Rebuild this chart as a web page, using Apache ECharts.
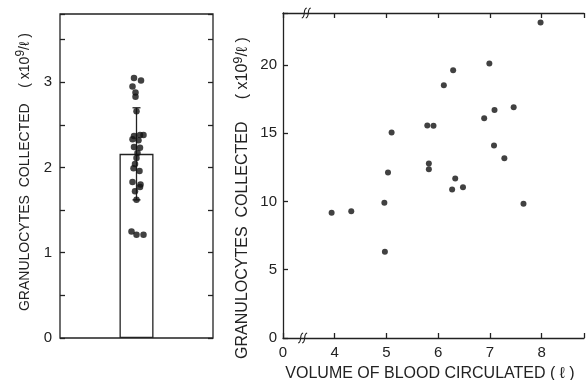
<!DOCTYPE html>
<html><head><meta charset="utf-8">
<script src="https://cdn.jsdelivr.net/npm/echarts@6/dist/echarts.min.js"></script>
<style>html,body{margin:0;padding:0;background:#fff}#c{width:587px;height:380px}</style>
</head><body><div id="c"></div>
<script>
// Left panel: individual values and mean ± SD
const leftCategory = ['all'];
const leftValues = [3.05,3.02,2.95,2.88,2.83,2.66,2.37,2.38,2.38,2.33,2.32,2.24,2.23,2.17,2.11,2.04,1.99,1.96,1.83,1.80,1.77,1.72,1.62,1.25,1.21,1.21];
const leftJitter = [-2.5,4.5,-4,-1,-1,0,-2.5,3.5,7,-4,2,-2.5,3.5,1,0,-1.5,-3,3,-4,4,3.5,-1.5,0,-5,0,7];
const barMean = [2.16];
const barSD = [0.54];
// Right panel: volume of blood circulated vs granulocytes collected
const volume = [7.98,6.99,6.29,6.11,7.46,7.09,6.89,5.79,5.91,5.10,7.08,7.28,5.82,5.82,5.03,6.33,6.27,6.48,3.94,4.32,4.96,7.65,4.97];
const granulocytes = [23.1,20.1,19.6,18.5,16.9,16.7,16.1,15.57,15.55,15.04,14.09,13.16,12.77,12.36,12.12,11.68,10.88,11.04,9.17,9.29,9.9,9.83,6.32];
const leftTicks = [0,1,2,3];
const rightYTicks = [0,5,10,15,20];
const rightXTicks = [4,5,6,7,8];
const breakX = [3.38,3.45];
const breakY = [0,23.8];

const INK = '#222';
const FONT = 'Liberation Sans';
const line = {color: INK, width: 1.3};

const chart = echarts.init(document.getElementById('c'), null, {renderer:'canvas'});
const tickLabel = {fontFamily: FONT, fontSize: 15, color: INK};

chart.setOption({
  backgroundColor: '#fff',
  animation: false,
  grid: [
    {left: 60, right: 374, top: 14, bottom: 42, show: true, borderColor: INK, borderWidth: 1.3, backgroundColor: 'transparent'},
    {left: 283, right: 0, top: 13, bottom: 42, show: false}
  ],
  xAxis: [
    {gridIndex: 0, type: 'category', data: leftCategory, axisLine: {show: false, onZero: false}, axisTick: {show: false}, axisLabel: {show: false}},
    {gridIndex: 0, type: 'value', min: -76.5, max: 76.5, show: false, axisLine: {onZero: false}},
    {gridIndex: 1, type: 'value', min: 3, max: 8.82, interval: 1, position: 'bottom',
      axisLine: {show: true, onZero: false, lineStyle: line}, splitLine: {show: false},
      axisTick: {inside: true, length: 5, lineStyle: line},
      axisLabel: Object.assign({margin: 7, formatter: v => v === 3 ? '0' : (rightXTicks.indexOf(v) >= 0 ? String(v) : '')}, tickLabel)},
    {gridIndex: 1, type: 'value', min: 3, max: 8.82, interval: 1, position: 'top',
      axisLine: {show: true, onZero: false, lineStyle: line}, splitLine: {show: false},
      axisTick: {inside: true, length: 5, lineStyle: line}, axisLabel: {show: false}}
  ],
  yAxis: [
    {gridIndex: 0, type: 'value', min: 0, max: 3.8, interval: 0.5,
      axisLine: {show: false, onZero: false}, splitLine: {show: false},
      axisTick: {show: true, inside: true, length: 5, lineStyle: line},
      axisLabel: Object.assign({margin: 8, formatter: v => leftTicks.indexOf(v) >= 0 ? String(v) : ''}, tickLabel)},
    {gridIndex: 0, type: 'value', min: 0, max: 3.8, interval: 0.5, position: 'right',
      axisLine: {show: false, onZero: false}, splitLine: {show: false},
      axisTick: {show: true, inside: true, length: 5, lineStyle: line}, axisLabel: {show: false}},
    {gridIndex: 1, type: 'value', min: 0, max: 23.8, interval: 5,
      axisLine: {show: true, onZero: false, lineStyle: line}, splitLine: {show: false},
      axisTick: {show: true, inside: true, length: 5, lineStyle: line},
      axisLabel: Object.assign({margin: 6, formatter: v => rightYTicks.indexOf(v) >= 0 ? String(v) : ''}, tickLabel)}
  ],
  series: [
    {type: 'bar', xAxisIndex: 0, yAxisIndex: 0, data: barMean, barWidth: 34,
      itemStyle: {color: '#fff', borderColor: INK, borderWidth: 1.3}, z: 1},
    {type: 'custom', xAxisIndex: 0, yAxisIndex: 0, z: 3,
      data: barMean.map((m, i) => [i, m - barSD[i], m + barSD[i]]),
      renderItem: function (params, api) {
        const lo = api.coord([api.value(0), api.value(1)]);
        const hi = api.coord([api.value(0), api.value(2)]);
        const w = 4, st = {stroke: INK, lineWidth: 1.3};
        return {type: 'group', children: [
          {type: 'line', shape: {x1: lo[0], y1: lo[1], x2: hi[0], y2: hi[1]}, style: st},
          {type: 'line', shape: {x1: hi[0]-w, y1: hi[1], x2: hi[0]+w, y2: hi[1]}, style: st},
          {type: 'line', shape: {x1: lo[0]-w, y1: lo[1], x2: lo[0]+w, y2: lo[1]}, style: st}
        ]};
      }},
    {type: 'scatter', xAxisIndex: 1, yAxisIndex: 0, z: 4, symbolSize: 6.5,
      itemStyle: {color: '#111'},
      data: leftValues.map((v, i) => [leftJitter[i], v])},
    {type: 'scatter', xAxisIndex: 2, yAxisIndex: 2, z: 4, symbolSize: 6,
      itemStyle: {color: '#111'},
      data: volume.map((v, i) => [v, granulocytes[i]])},
    {type: 'custom', xAxisIndex: 2, yAxisIndex: 2, z: 5, clip: false,
      data: breakX.map((x, i) => [x, breakY[i]]),
      renderItem: function (params, api) {
        const p = api.coord([api.value(0), api.value(1)]);
        const st = {stroke: INK, lineWidth: 1.1, fill: null};
        const s = dx => ({type: 'bezierCurve', shape: {
          x1: p[0]+dx-2.5, y1: p[1]+5, cpx1: p[0]+dx+2, cpy1: p[1]+4, cpx2: p[0]+dx-2, cpy2: p[1]-4, x2: p[0]+dx+2.5, y2: p[1]-5}, style: st});
        return {type: 'group', children: [s(-2), s(2)]};
      }}
  ],
  graphic: [
    {type: 'text', x: 25, y: 172, rotation: Math.PI/2,
      style: {text: 'GRANULOCYTES  COLLECTED    ( x10{s|9}/ℓ )', fontSize: 14, fontFamily: FONT, fill: INK,
        align: 'center', verticalAlign: 'middle',
        rich: {s: {fontSize: 12, fontFamily: FONT, fill: INK, padding: [0, 0, 9, 0]}}}},
    {type: 'text', x: 243, y: 198, rotation: Math.PI/2,
      style: {text: 'GRANULOCYTES  COLLECTED     ( x10{s|9}/ℓ )', fontSize: 16, fontFamily: FONT, fill: INK,
        align: 'center', verticalAlign: 'middle',
        rich: {s: {fontSize: 13, fontFamily: FONT, fill: INK, padding: [0, 0, 10, 0]}}}},
    {type: 'text', x: 430, y: 374,
      style: {text: 'VOLUME OF BLOOD CIRCULATED ( ℓ )', fontSize: 16, fontFamily: FONT, fill: INK,
        align: 'center', verticalAlign: 'middle'}}
  ]
});
</script></body></html>
